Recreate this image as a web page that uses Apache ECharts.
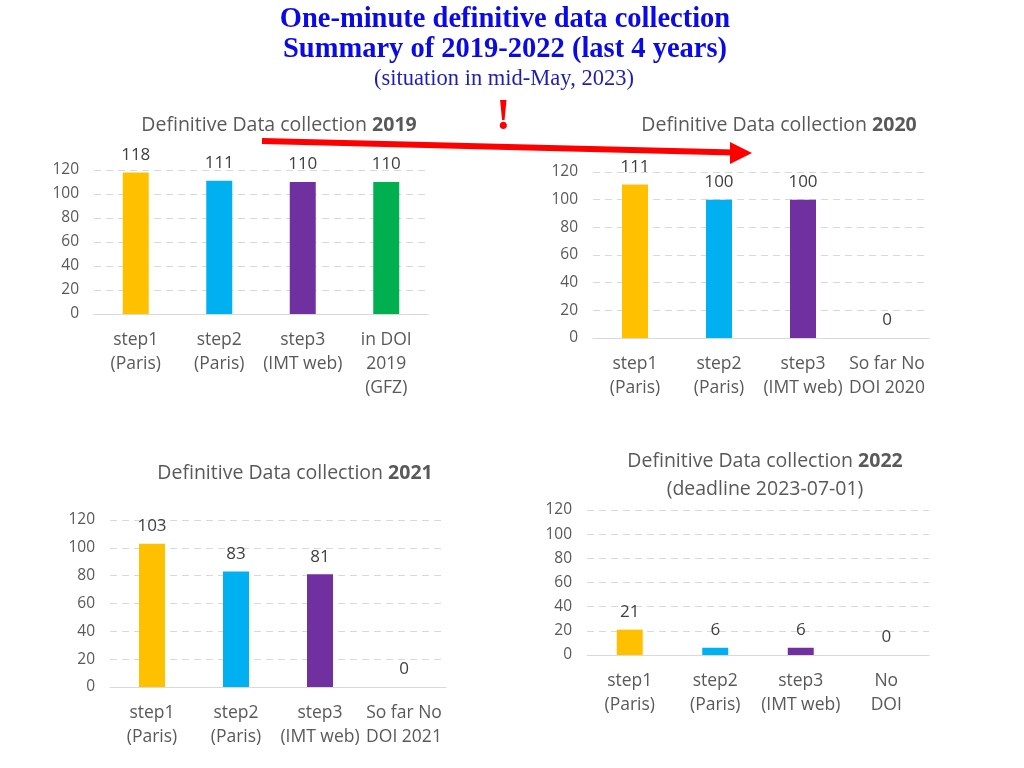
<!DOCTYPE html>
<html>
<head>
<meta charset="utf-8">
<script src="https://cdn.jsdelivr.net/npm/echarts@6/dist/echarts.min.js"></script>
<style>
html,body{margin:0;padding:0;background:#fff;}
#chart{width:1024px;height:768px;}
</style>
</head>
<body>
<div id="chart"></div>
<script>
// ---- data ----
const categories2019 = ['step1\n(Paris)', 'step2\n(Paris)', 'step3\n(IMT web)', 'in DOI\n2019\n(GFZ)'];
const values2019 = [118, 111, 110, 110];
const categories2020 = ['step1\n(Paris)', 'step2\n(Paris)', 'step3\n(IMT web)', 'So far No\nDOI 2020'];
const values2020 = [111, 100, 100, 0];
const categories2021 = ['step1\n(Paris)', 'step2\n(Paris)', 'step3\n(IMT web)', 'So far No\nDOI 2021'];
const values2021 = [103, 83, 81, 0];
const categories2022 = ['step1\n(Paris)', 'step2\n(Paris)', 'step3\n(IMT web)', 'No\nDOI'];
const values2022 = [21, 6, 6, 0];
const barColors = ['#FFC000', '#00B0F0', '#7030A0', '#00B050'];
const yMin = 0, yMax = 120, yStep = 20;

const FONT = 'Open Sans';
const panels = [
  {cats: categories2019, vals: values2019, grid: {left: 94, top: 170, width: 334, height: 144}},
  {cats: categories2020, vals: values2020, grid: {left: 593, top: 172, width: 336, height: 166}},
  {cats: categories2021, vals: values2021, grid: {left: 110, top: 520, width: 336, height: 167}},
  {cats: categories2022, vals: values2022, grid: {left: 587, top: 510, width: 342, height: 145}}
];

const grids = [], xAxes = [], yAxes = [], series = [];
panels.forEach((p, i) => {
  grids.push(Object.assign({containLabel: false}, p.grid));
  xAxes.push({
    type: 'category', gridIndex: i, data: p.cats,
    axisLine: {show: true, lineStyle: {color: '#d9d9d9', width: 1}},
    axisTick: {show: false},
    axisLabel: {color: '#595959', fontFamily: FONT, fontSize: 17.5, lineHeight: 24, margin: 14, interval: 0}
  });
  yAxes.push({
    type: 'value', gridIndex: i, min: yMin, max: yMax, interval: yStep,
    axisLine: {show: false}, axisTick: {show: false},
    axisLabel: {color: '#595959', fontFamily: FONT, fontSize: 15.5, margin: 15},
    splitLine: {show: true, lineStyle: {color: '#d9d9d9', type: [7, 5], width: 1}}
  });
  series.push({
    type: 'bar', xAxisIndex: i, yAxisIndex: i, barWidth: 26,
    data: p.vals.map((v, k) => ({value: v, itemStyle: {color: barColors[k]}})),
    label: {show: true, position: 'top', distance: 9, color: '#404040', fontFamily: FONT, fontSize: 17}
  });
});

const subTitleStyle = {
  color: '#595959', fontFamily: FONT, fontSize: 19.5, fontWeight: 'normal', lineHeight: 28,
  rich: {b: {color: '#595959', fontFamily: FONT, fontSize: 19.5, fontWeight: 'bold', lineHeight: 28}}
};

const option = {
  backgroundColor: '#fff',
  animation: false,
  title: [
    {text: 'One-minute definitive data collection\nSummary of 2019-2022 (last 4 years)', left: 500, top: 0, textAlign: 'center',
     textStyle: {color: '#0A0AE6', fontFamily: 'Liberation Serif', fontWeight: 'bold', fontSize: 28.5, lineHeight: 30}},
    {text: '(situation in mid-May, 2023)', left: 499, top: 63, textAlign: 'center',
     textStyle: {color: '#1E1EB4', fontFamily: 'Liberation Serif', fontWeight: 'normal', fontSize: 22.5}},
    {text: 'Definitive Data collection {b|2019}', left: 274, top: 106, textAlign: 'center', textStyle: subTitleStyle},
    {text: 'Definitive Data collection {b|2020}', left: 774, top: 106, textAlign: 'center', textStyle: subTitleStyle},
    {text: 'Definitive Data collection {b|2021}', left: 290, top: 454, textAlign: 'center', textStyle: subTitleStyle},
    {text: 'Definitive Data collection {b|2022}\n(deadline 2023-07-01)', left: 760, top: 442, textAlign: 'center', textStyle: subTitleStyle}
  ],
  grid: grids,
  xAxis: xAxes,
  yAxis: yAxes,
  series: series,
  graphic: [
    {type: 'line', shape: {x1: 262, y1: 141, x2: 734, y2: 152.5}, style: {stroke: '#FF0000', lineWidth: 6}},
    {type: 'polygon', shape: {points: [[730, 142], [752, 153], [730, 164]]}, style: {fill: '#FF0000'}},
    {type: 'text', left: 496, top: 96, style: {text: '!', fill: '#FF0000', font: 'bold 44px "Liberation Serif"'}}
  ]
};

const chart = echarts.init(document.getElementById('chart'), null, {renderer: 'canvas'});
chart.setOption(option);
</script>
</body>
</html>
